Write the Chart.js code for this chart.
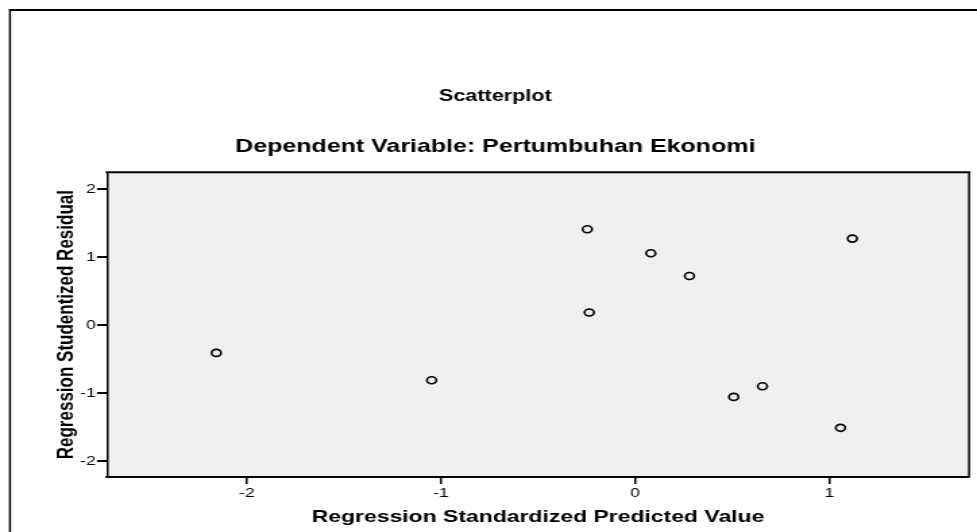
<!DOCTYPE html>
<html>
<head>
<meta charset="utf-8">
<title>Scatterplot</title>
<script src="https://cdn.jsdelivr.net/npm/chart.js@4"></script>
<style>
    body { margin: 0; background: #fff; }
    /* the reference is a horizontally stretched SPSS export, so the canvas is stretched the same way */
    #scatter { display: block; width: 977px !important; height: 532px !important; }
</style>
</head>
<body>
<canvas id="scatter" width="724" height="532" style="width:977px;height:532px"></canvas>
<script>
const predicted = [-2.157, -1.048, -0.246, 0.081, 0.280, -0.236, 1.119, 0.508, 0.656, 1.058];
const residual = [-0.405, -0.807, 1.412, 1.059, 0.726, 0.188, 1.275, -1.052, -0.895, -1.507];
const xTickValues = [-2, -1, 0, 1];
const yTickValues = [-2, -1, 0, 1, 2];

const FONT = "'Liberation Sans', Arial, sans-serif";

const framePlugin = {
    id: 'frame',
    beforeDraw(chart) {
        const ctx = chart.ctx;
        const a = chart.chartArea;
        ctx.save();
        ctx.fillStyle = '#fff';
        ctx.fillRect(0, 0, chart.width, chart.height);
        // outer border of the output frame
        ctx.strokeStyle = '#000';
        ctx.lineWidth = 2;
        ctx.beginPath();
        ctx.moveTo(6.7, 10);
        ctx.lineTo(chart.width + 5, 10);
        ctx.stroke();
        ctx.lineWidth = 1.5;
        ctx.beginPath();
        ctx.moveTo(7.4, 9);
        ctx.lineTo(7.4, chart.height + 5);
        ctx.stroke();
        // plot background
        ctx.fillStyle = '#f0f0f0';
        ctx.fillRect(a.left, a.top, a.right - a.left, a.bottom - a.top);
        ctx.restore();
    },
    afterDraw(chart) {
        const ctx = chart.ctx;
        const a = chart.chartArea;
        ctx.save();
        ctx.strokeStyle = '#000';
        ctx.lineWidth = 2;
        ctx.beginPath();
        ctx.moveTo(a.left - 1, a.top);
        ctx.lineTo(a.right + 1, a.top);
        ctx.stroke();
        ctx.lineWidth = 1.5;
        ctx.beginPath();
        ctx.moveTo(a.right, a.top);
        ctx.lineTo(a.right, a.bottom);
        ctx.stroke();
        ctx.restore();
    }
};

new Chart(document.getElementById('scatter'), {
    type: 'scatter',
    data: {
        datasets: [{
            data: predicted.map((x, i) => ({ x: x, y: residual[i] })),
            pointStyle: 'circle',
            pointRadius: 3.5,
            pointHoverRadius: 3.5,
            pointBorderWidth: 1.6,
            pointBorderColor: '#000',
            pointBackgroundColor: 'rgba(0,0,0,0)',
        }],
    },
    options: {
        responsive: false,
        devicePixelRatio: 1,
        animation: false,
        events: [],
        layout: { padding: { top: 0, left: 16, right: 5.9, bottom: 0 } },
        plugins: {
            legend: { display: false },
            tooltip: { enabled: false },
            title: {
                display: true,
                text: 'Scatterplot',
                color: '#000',
                font: { family: FONT, size: 16, weight: 'bold' },
                padding: { top: 87.4, bottom: 0 },
            },
            subtitle: {
                display: true,
                text: 'Dependent Variable: Pertumbuhan Ekonomi',
                color: '#000',
                font: { family: FONT, size: 18.5, weight: 'bold' },
                padding: { top: 29.3, bottom: 14.2 },
            },
        },
        scales: {
            x: {
                type: 'linear',
                min: -2.72,
                max: 1.72,
                afterFit: (scale) => { scale.height = 55; },
                afterBuildTicks: (scale) => { scale.ticks = xTickValues.map(v => ({ value: v })); },
                grid: { drawOnChartArea: false, drawTicks: true, tickLength: 7, color: '#000', lineWidth: 1.5 },
                border: { display: true, color: '#000', width: 2 },
                ticks: { color: '#000', padding: 2, maxRotation: 0, font: { family: FONT, size: 13 } },
                title: {
                    display: true,
                    text: 'Regression Standardized Predicted Value',
                    color: '#000',
                    font: { family: FONT, size: 17, weight: 'bold' },
                    padding: { top: 0, bottom: 4.8 },
                },
            },
            y: {
                type: 'linear',
                min: -2.23,
                max: 2.25,
                afterFit: (scale) => { scale.width = 63.3; },
                afterBuildTicks: (scale) => { scale.ticks = yTickValues.map(v => ({ value: v })); },
                grid: { drawOnChartArea: false, drawTicks: true, tickLength: 7.4, color: '#000', lineWidth: 2 },
                border: { display: true, color: '#000', width: 1.5 },
                ticks: { color: '#000', padding: 1, font: { family: FONT, size: 13 } },
                title: {
                    display: true,
                    text: 'Regression Studentized Residual',
                    color: '#000',
                    font: { family: FONT, size: 17, weight: 'bold' },
                    padding: { top: 22.7, bottom: 0 },
                },
            },
        },
    },
    plugins: [framePlugin],
});
</script>
</body>
</html>
